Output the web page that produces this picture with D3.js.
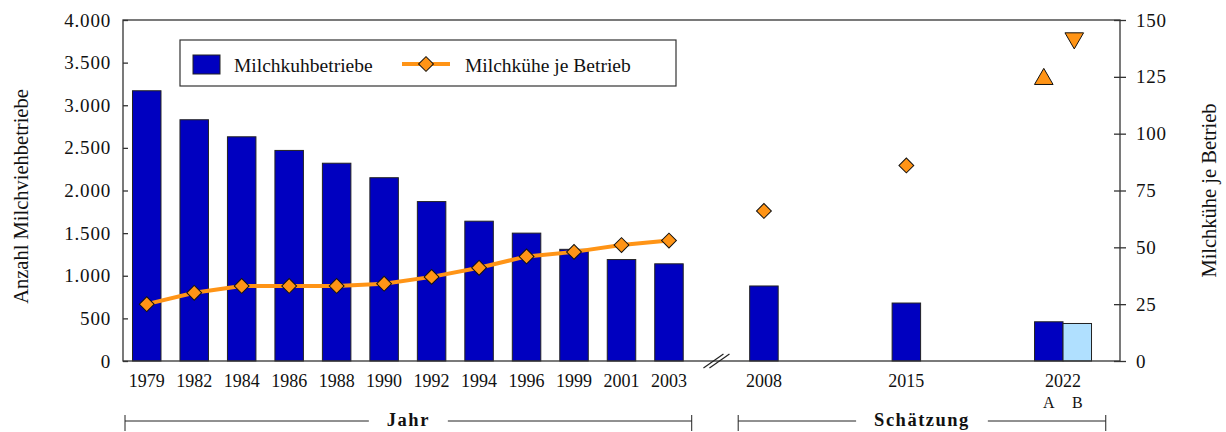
<!DOCTYPE html>
<html>
<head>
<meta charset="utf-8">
<script src="https://cdn.jsdelivr.net/npm/d3@7"></script>
<style>
  body { margin: 0; background: #fff; }
  svg { display: block; }
</style>
</head>
<body>
<div id="chart"></div>
<script>
// data
const slots = ["1979", "1982", "1984", "1986", "1988", "1990", "1992", "1994", "1996", "1999", "2001", "2003",
  "gap", "2008", "e1", "e2", "2015", "e3", "e4", "2022", "e5"];
const years = ["1979", "1982", "1984", "1986", "1988", "1990", "1992", "1994", "1996", "1999", "2001", "2003"];
const betriebe = [3170, 2830, 2630, 2470, 2320, 2150, 1870, 1640, 1500, 1310, 1190, 1140];
const kuehe = [25, 30, 33, 33, 33, 34, 37, 41, 46, 48, 51, 53];
const estYears = ["2008", "2015"];
const estBetriebe = [880, 680];
const estKuehe = [66, 86];
const betriebe2022 = [460, 440];   // A, B
const kuehe2022 = [124, 142];      // A, B
const leftTicks = [0, 500, 1000, 1500, 2000, 2500, 3000, 3500, 4000];
const rightTicks = [0, 25, 50, 75, 100, 125, 150];

const WIDTH = 1226, HEIGHT = 432;
const LEFT = 123, RIGHT = 1120, TOP = 20, BOTTOM = 361;
const DARK_BLUE = "#0000c0";
const LIGHT_BLUE = "#b0e0ff";
const ORANGE = "#ff9416";
const FONT = "'Liberation Serif', 'Times New Roman', serif";

var svg = d3.select("#chart").append("svg")
  .attr("width", WIDTH)
  .attr("height", HEIGHT);

var x = d3.scaleBand().domain(slots).range([LEFT, RIGHT]).paddingInner(0).paddingOuter(0);
var yLeft = d3.scaleLinear().domain([0, 4000]).range([BOTTOM, TOP]);
var yRight = d3.scaleLinear().domain([0, 150]).range([BOTTOM, TOP]);

const barWidth = x.bandwidth() * 0.6;
function center(k) { return x(k) + x.bandwidth() / 2; }

// bars
var bars = years.map(function(d, i) { return {key: d, v: betriebe[i], off: 0, fill: DARK_BLUE}; })
  .concat(estYears.map(function(d, i) { return {key: d, v: estBetriebe[i], off: 0, fill: DARK_BLUE}; }))
  .concat([{key: "2022", v: betriebe2022[0], off: 0, fill: DARK_BLUE},
           {key: "2022", v: betriebe2022[1], off: barWidth, fill: LIGHT_BLUE}]);

svg.append("g").selectAll("rect")
  .data(bars)
  .enter().append("rect")
  .attr("x", function(d) { return center(d.key) - barWidth / 2 + d.off; })
  .attr("y", function(d) { return yLeft(d.v); })
  .attr("width", barWidth)
  .attr("height", function(d) { return BOTTOM - yLeft(d.v); })
  .attr("fill", function(d) { return d.fill; })
  .attr("stroke", "#222")
  .attr("stroke-width", 1);

// frame
svg.append("rect")
  .attr("x", LEFT).attr("y", TOP)
  .attr("width", RIGHT - LEFT).attr("height", BOTTOM - TOP)
  .attr("fill", "none").attr("stroke", "#333").attr("stroke-width", 1.3);

// axes
var leftAxis = svg.append("g")
  .attr("transform", "translate(" + LEFT + ",0)")
  .call(d3.axisLeft(yLeft).tickValues(leftTicks).tickSize(8).tickPadding(4)
    .tickFormat(function(d) { return d3.format(",")(d).replace(/,/g, "."); }));
leftAxis.selectAll(".tick line").attr("x2", 5);

var rightAxis = svg.append("g")
  .attr("transform", "translate(" + RIGHT + ",0)")
  .call(d3.axisRight(yRight).tickValues(rightTicks).tickSize(6).tickPadding(10));
rightAxis.selectAll(".tick line").attr("x1", -6);

[leftAxis, rightAxis].forEach(function(a) {
  a.select(".domain").remove();
  a.selectAll(".tick line").attr("stroke", "#333").attr("stroke-width", 1.3);
  a.selectAll("text")
    .attr("font-family", FONT)
    .attr("font-size", 19)
    .attr("letter-spacing", 0.8)
    .attr("fill", "#111");
});

// axis titles
svg.append("text")
  .attr("transform", "translate(28," + ((TOP + BOTTOM) / 2 + 6) + ") rotate(-90)")
  .attr("text-anchor", "middle")
  .attr("font-family", FONT).attr("font-size", 20.5).attr("fill", "#111")
  .text("Anzahl Milchviehbetriebe");

svg.append("text")
  .attr("transform", "translate(1216," + ((TOP + BOTTOM) / 2) + ") rotate(-90)")
  .attr("text-anchor", "middle")
  .attr("font-family", FONT).attr("font-size", 20.5).attr("fill", "#111")
  .text("Milchkühe je Betrieb");

// x labels
var xLabels = years.concat(estYears);
svg.append("g").selectAll("text")
  .data(xLabels)
  .enter().append("text")
  .attr("x", function(d) { return center(d); })
  .attr("y", BOTTOM + 26)
  .attr("text-anchor", "middle")
  .attr("font-family", FONT).attr("font-size", 18).attr("fill", "#111")
  .text(function(d) { return d; });

svg.append("text")
  .attr("x", center("2022") + barWidth / 2)
  .attr("y", BOTTOM + 26)
  .attr("text-anchor", "middle")
  .attr("font-family", FONT).attr("font-size", 18).attr("fill", "#111")
  .text("2022");

svg.append("g").selectAll("text")
  .data(["A", "B"])
  .enter().append("text")
  .attr("x", function(d, i) { return center("2022") + i * barWidth; })
  .attr("y", BOTTOM + 47)
  .attr("text-anchor", "middle")
  .attr("font-family", FONT).attr("font-size", 16).attr("fill", "#111")
  .text(function(d) { return d; });

// axis break mark
var gx = center("gap");
[-3, 3].forEach(function(dx) {
  svg.append("line")
    .attr("x1", gx + dx - 10).attr("y1", BOTTOM + 7)
    .attr("x2", gx + dx + 10).attr("y2", BOTTOM - 7)
    .attr("stroke", "#222").attr("stroke-width", 1.2);
});

// line series
var line = d3.line()
  .x(function(d) { return center(d.key); })
  .y(function(d) { return yRight(d.v); });

var linePoints = years.map(function(d, i) { return {key: d, v: kuehe[i]}; });

svg.append("path")
  .datum(linePoints)
  .attr("d", line)
  .attr("fill", "none")
  .attr("stroke", ORANGE)
  .attr("stroke-width", 4)
  .attr("stroke-linejoin", "round");

var diamond = d3.symbol().type(d3.symbolSquare).size(110);
var diamonds = linePoints.concat(estYears.map(function(d, i) { return {key: d, v: estKuehe[i]}; }));

svg.append("g").selectAll("path")
  .data(diamonds)
  .enter().append("path")
  .attr("d", diamond)
  .attr("transform", function(d) { return "translate(" + center(d.key) + "," + yRight(d.v) + ") rotate(45)"; })
  .attr("fill", ORANGE)
  .attr("stroke", "#111")
  .attr("stroke-width", 1);

var triangle = d3.symbol().type(d3.symbolTriangle).size(150);
svg.append("g").selectAll("path")
  .data(kuehe2022)
  .enter().append("path")
  .attr("d", triangle)
  .attr("transform", function(d, i) {
    return "translate(" + (center("2022") - 5 + i * (barWidth + 2)) + "," + yRight(d) + ") rotate(" + (i * 180) + ")";
  })
  .attr("fill", ORANGE)
  .attr("stroke", "#111")
  .attr("stroke-width", 1);

// legend
var legend = svg.append("g").attr("transform", "translate(180,40)");
legend.append("rect")
  .attr("width", 496).attr("height", 46)
  .attr("fill", "#fff").attr("stroke", "#333").attr("stroke-width", 1.2);
legend.append("rect")
  .attr("x", 13).attr("y", 15).attr("width", 27).attr("height", 19)
  .attr("fill", DARK_BLUE).attr("stroke", "#222");
legend.append("text")
  .attr("x", 54).attr("y", 32)
  .attr("font-family", FONT).attr("font-size", 19.5).attr("fill", "#111")
  .text("Milchkuhbetriebe");
legend.append("line")
  .attr("x1", 222).attr("x2", 270).attr("y1", 24).attr("y2", 24)
  .attr("stroke", ORANGE).attr("stroke-width", 4);
legend.append("path")
  .attr("d", diamond)
  .attr("transform", "translate(246,24) rotate(45)")
  .attr("fill", ORANGE).attr("stroke", "#111");
legend.append("text")
  .attr("x", 285).attr("y", 32)
  .attr("font-family", FONT).attr("font-size", 19.5).attr("fill", "#111")
  .text("Milchkühe je Betrieb");

// brackets under the axis
function bracket(x1, x2, label) {
  var yb = 421;
  var g = svg.append("g");
  var t = g.append("text")
    .attr("x", (x1 + x2) / 2)
    .attr("y", 426)
    .attr("text-anchor", "middle")
    .attr("font-family", FONT).attr("font-size", 18.5).attr("font-weight", "bold")
    .attr("letter-spacing", 1.5).attr("fill", "#111")
    .text(label);
  var half = t.node().getComputedTextLength() / 2 + 18;
  var mid = (x1 + x2) / 2;
  [[x1, mid - half], [mid + half, x2]].forEach(function(s) {
    g.append("line").attr("x1", s[0]).attr("x2", s[1]).attr("y1", yb).attr("y2", yb)
      .attr("stroke", "#222").attr("stroke-width", 1);
  });
  [x1, x2].forEach(function(xx) {
    g.append("line").attr("x1", xx).attr("x2", xx).attr("y1", yb - 6).attr("y2", yb + 10)
      .attr("stroke", "#222").attr("stroke-width", 1);
  });
}

bracket(x("1979") + 2, x("2003") + x.bandwidth() - 1, "Jahr");
bracket(x("2008") - 2, x("e5") + x.bandwidth() * 0.7, "Schätzung");
</script>
</body>
</html>
